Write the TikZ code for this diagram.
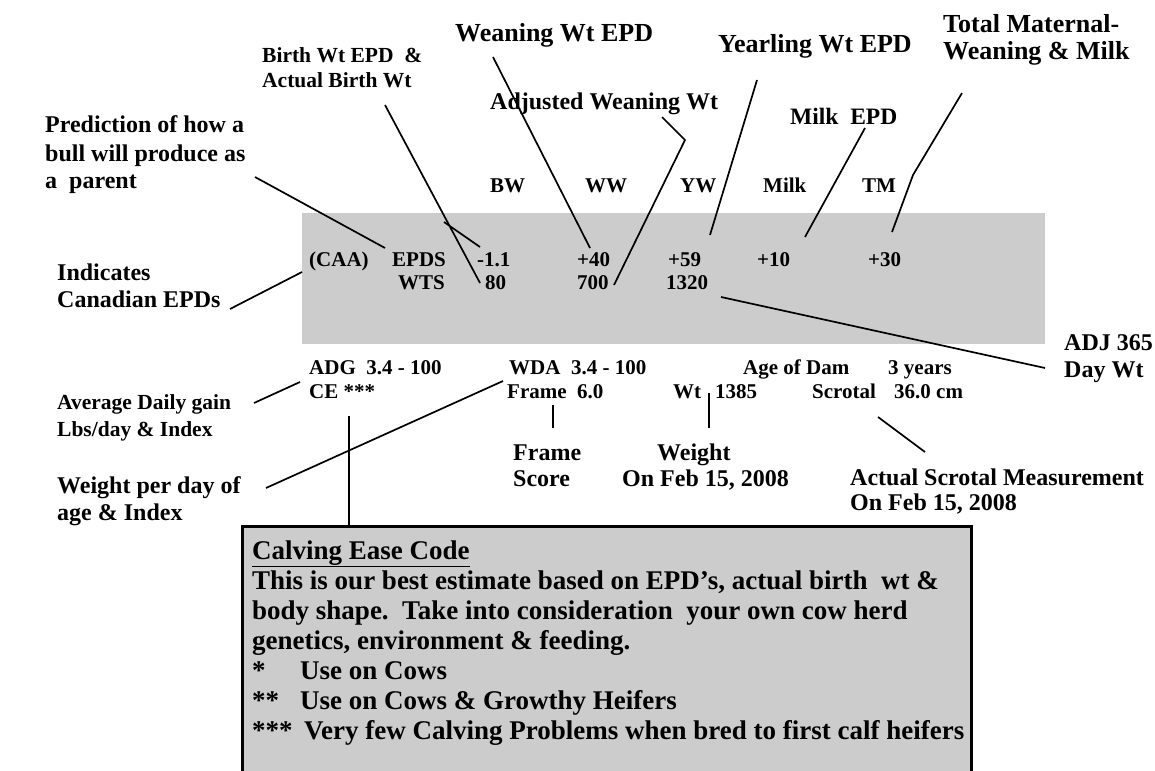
\documentclass[tikz,border=0pt]{standalone}
\usepackage{fontspec}
\setmainfont{Liberation Serif}
\definecolor{bandgray}{RGB}{204,204,204}
\begin{document}
\begin{tikzpicture}[x=1pt,y=-1pt,
  lbl/.style={anchor=base west,inner sep=0pt,font=\bfseries\fontsize{#1}{#1}\selectfont},
  ld/.style={line width=1.7pt},
  ldk/.style={line width=2.8pt}]
\useasboundingbox (0,0) rectangle (1155,770);
% grey band and calving box
\node[fill=bandgray,inner sep=0pt,minimum width=743pt,minimum height=131pt,anchor=north west] (band) at (302,213) {};
\node[draw,line width=3pt,fill=bandgray,inner sep=0pt,minimum width=729pt,minimum height=280pt,anchor=north west] (cebox) at (241,525) {};

% top labels
\node[lbl=21.5] (bw1) at (262,63) {Birth Wt EPD\ \ \&};
\node[lbl=21.5] (bw2) at (262,88) {Actual Birth Wt};
\node[lbl=26] (wwepd) at (455,42) {Weaning Wt EPD};
\node[lbl=26] (ywepd) at (718,53) {Yearling Wt EPD};
\node[lbl=26] (tm1) at (943,33) {Total Maternal-};
\node[lbl=26] (tm2) at (943,60) {Weaning \& Milk};
\node[lbl=24] (adjww) at (490,110) {Adjusted Weaning Wt};
\node[lbl=23.5] (milkepd) at (790,125) {Milk\ \ EPD};
\node[lbl=24] (pr1) at (45,133) {Prediction of how a};
\node[lbl=24] (pr2) at (45,161) {bull will produce as};
\node[lbl=24] (pr3) at (45,188) {a\ \ parent};
\node[lbl=24] (ind1) at (57,280) {Indicates};
\node[lbl=24] (ind2) at (57,307) {Canadian EPDs};

% column headers
\node[lbl=21] (hBW) at (490,193) {BW};
\node[lbl=21] (hWW) at (585,193) {WW};
\node[lbl=21] (hYW) at (680,193) {YW};
\node[lbl=21] (hMilk) at (763,193) {Milk};
\node[lbl=21] (hTM) at (862,193) {TM};

% data in band
\node[lbl=21] (caa) at (309,266) {(CAA)};
\node[lbl=21] (epds) at (392,266) {EPDS};
\node[lbl=21,anchor=base east] (wts) at (445,289) {WTS};
\node[lbl=21] (vbw) at (477,266) {-1.1};
\node[lbl=21] (vww) at (577,266) {+40};
\node[lbl=21] (vyw) at (668,266) {+59};
\node[lbl=21] (vmilk) at (757,266) {+10};
\node[lbl=21] (vtm) at (868,266) {+30};
\node[lbl=21] (wbw) at (485,289) {80};
\node[lbl=21] (www) at (577,289) {700};
\node[lbl=21] (wyw) at (666,289) {1320};

% rows below band
\node[lbl=21] (adg) at (309,374) {ADG\ \ 3.4 - 100};
\node[lbl=21] (wda) at (509,374) {WDA\ \ 3.4 - 100};
\node[lbl=21] (aod) at (743,374) {Age of Dam};
\node[lbl=21] (yrs) at (888,374) {3 years};
\node[lbl=21] (ce) at (309,398) {CE ***};
\node[lbl=21] (frame) at (507,398) {Frame\ \ 6.0};
\node[lbl=21] (wt) at (673,398) {Wt};
\node[lbl=21] (wtv) at (715,398) {1385};
\node[lbl=21] (scr) at (812,398) {Scrotal};
\node[lbl=21] (scrv) at (894,398) {36.0 cm};

% lower labels
\node[lbl=24] (adj1) at (1064,350) {ADJ 365};
\node[lbl=24] (adj2) at (1064,377) {Day Wt};
\node[lbl=21.5] (avg1) at (57,409) {Average Daily gain};
\node[lbl=21.5] (avg2) at (57,436) {Lbs/day \& Index};
\node[lbl=24] (wpd1) at (57,493) {Weight per day of};
\node[lbl=24] (wpd2) at (57,520) {age \& Index};
\node[lbl=24] (fs1) at (513,460) {Frame};
\node[lbl=24] (fs2) at (513,486) {Score};
\node[lbl=24] (wg1) at (657,460) {Weight};
\node[lbl=24] (wg2) at (622,486) {On Feb 15, 2008};
\node[lbl=24] (sc1) at (850,485) {Actual Scrotal Measurement};
\node[lbl=24] (sc2) at (850,510) {On Feb 15, 2008};

% calving ease text
\node[lbl=27] (ce0) at (252,559) {\underline{Calving Ease Code}};
\node[lbl=27] (ce1) at (252,589) {This is our best estimate based on EPD’s, actual birth\ \ wt \&};
\node[lbl=27] (ce2) at (252,619) {body shape.\ \ Take into consideration\ \ your own cow herd};
\node[lbl=27] (ce3) at (252,649) {genetics, environment \& feeding.};
\node[lbl=27] (ce4) at (252,679) {\makebox[48pt][l]{*}Use on Cows};
\node[lbl=27] (ce5) at (252,709) {\makebox[48pt][l]{**}Use on Cows \& Growthy Heifers};
\node[lbl=27] (ce6) at (252,739) {\makebox[52pt][l]{***}Very few Calving Problems when bred to first calf heifers};

% connector end points
\coordinate (a1) at (255,177); \coordinate (a2) at (385,248);
\coordinate (b1) at (385,105); \coordinate (b2) at (480,283);
\coordinate (b3) at (444,222); \coordinate (b4) at (480,247);
\coordinate (c1) at (493,57);  \coordinate (c2) at (590,248);
\coordinate (d1) at (662,117); \coordinate (d2) at (685,140); \coordinate (d3) at (614,285);
\coordinate (e1) at (757,80);  \coordinate (e2) at (710,235);
\coordinate (f1) at (865,128); \coordinate (f2) at (805,237);
\coordinate (g1) at (962,93);  \coordinate (g2) at (913,175); \coordinate (g3) at (892,232);
\coordinate (h1) at (230,309); \coordinate (h2) at (302,272);
\coordinate (i1) at (721,297); \coordinate (i2) at (1045,368);
\coordinate (j1) at (254,403); \coordinate (j2) at (300,382);
\coordinate (k1) at (266,488); \coordinate (k2) at (503,381);
\coordinate (l1) at (349,416); \coordinate (l2) at (349,525);
\coordinate (m1) at (553,405); \coordinate (m2) at (553,428);
\coordinate (n1) at (709,393); \coordinate (n2) at (709,428);
\coordinate (o1) at (878,417); \coordinate (o2) at (925,452);

\draw[ld] (a1) -- (a2);
\draw[ld] (b1) -- (b2);
\draw[ld] (b3) -- (b4);
\draw[ld] (c1) -- (c2);
\draw[ld] (d1) -- (d2) -- (d3);
\draw[ld] (e1) -- (e2);
\draw[ld] (f1) -- (f2);
\draw[ld] (g1) -- (g2) -- (g3);
\draw[ld] (h1) -- (h2);
\draw[ld] (i1) -- (i2);
\draw[ld] (j1) -- (j2);
\draw[ld] (k1) -- (k2);
\draw[line width=2.4pt] (l1) -- (l2);
\draw[ldk] (m1) -- (m2);
\draw[ldk] (n1) -- (n2);
\draw[ld] (o1) -- (o2);
\end{tikzpicture}
\end{document}
